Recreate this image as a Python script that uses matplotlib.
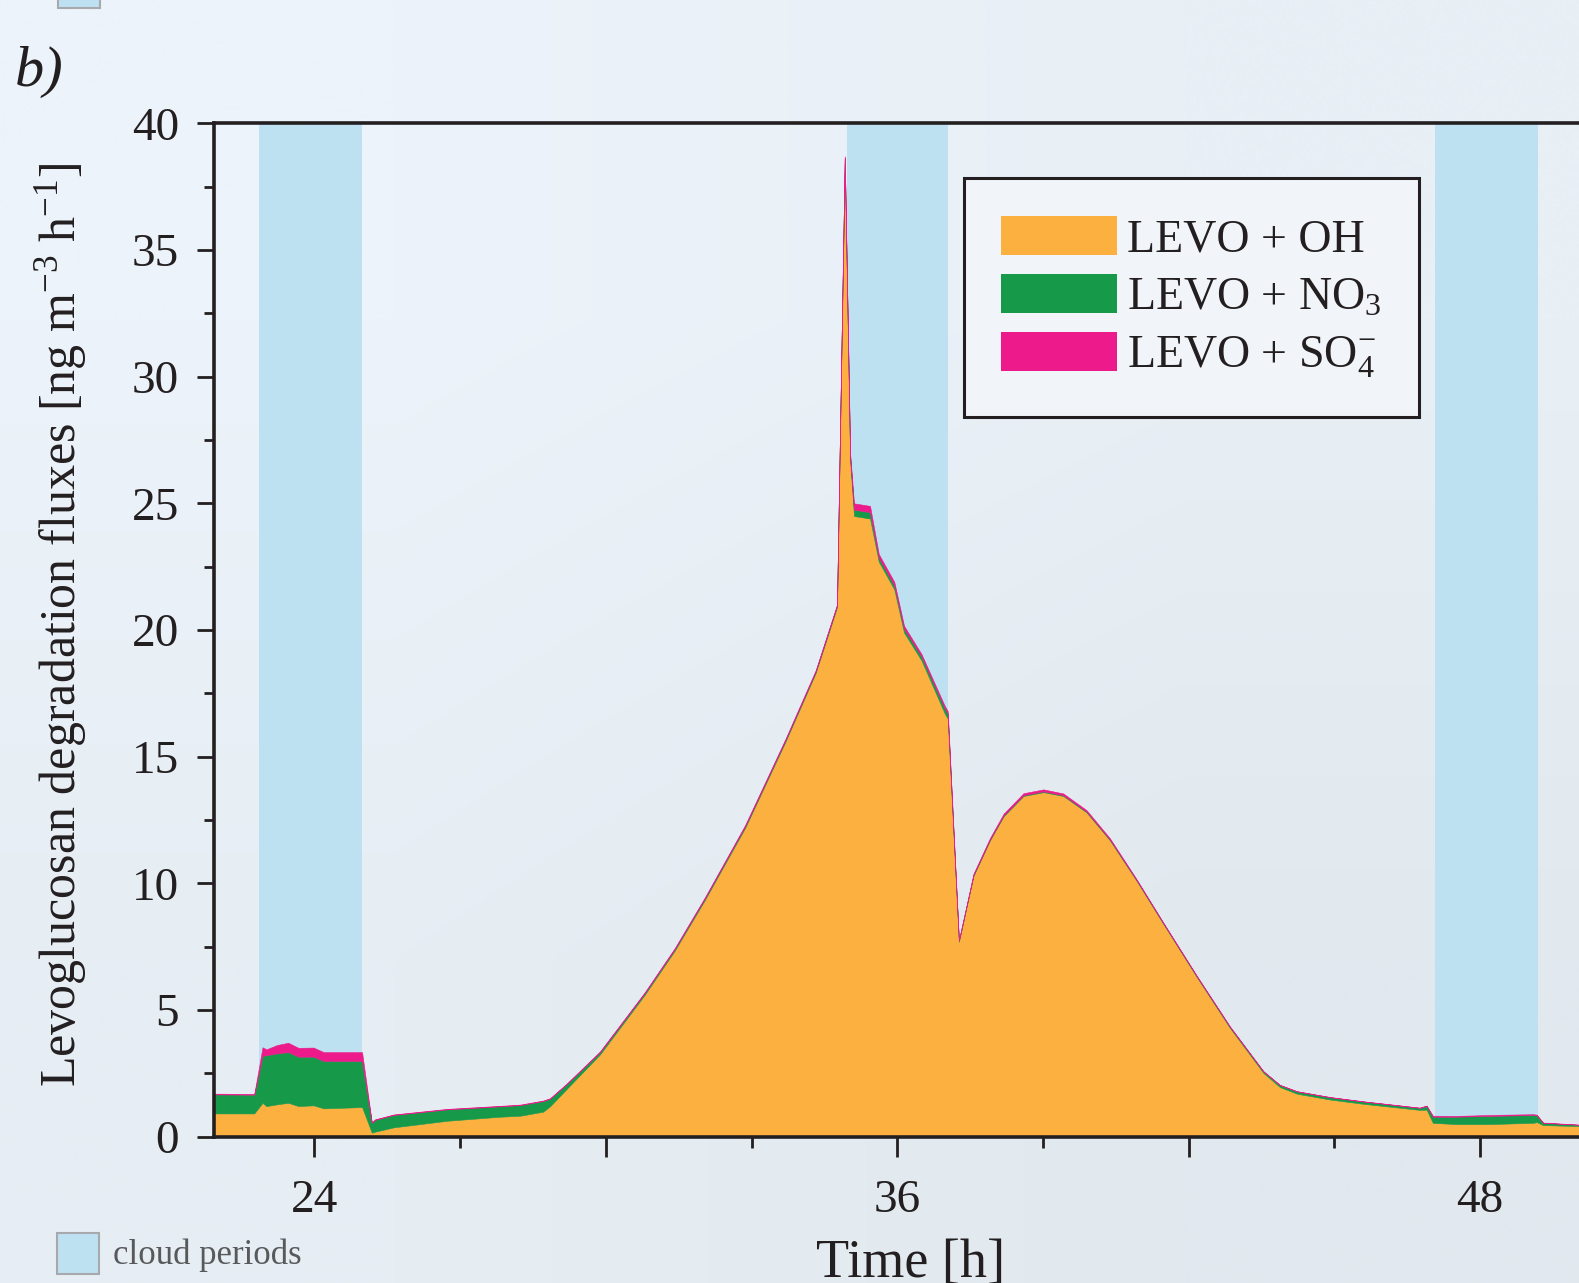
import numpy as np
import matplotlib
matplotlib.use("Agg")
import matplotlib.pyplot as plt
import matplotlib.patches as mpatches
from matplotlib.ticker import MultipleLocator, FuncFormatter

plt.rcParams['font.family'] = ['Liberation Serif', 'DejaVu Serif']
plt.rcParams['mathtext.fontset'] = 'custom'
plt.rcParams['mathtext.rm'] = 'Liberation Serif'
plt.rcParams['mathtext.it'] = 'Liberation Serif:italic'

# time [h] and the three degradation fluxes [ng m-3 h-1] (stacked)
time_h = [21.93, 22.76, 22.93, 23.01, 23.23, 23.46, 23.67, 23.98, 24.19, 24.98,
          25.18, 25.25, 25.63, 26.73, 27.82, 28.24, 28.71, 28.85, 29.20, 29.88,
          30.80, 31.42, 32.04, 32.87, 33.70, 34.32, 34.76, 34.92, 35.03, 35.11,
          35.44, 35.62, 35.94, 36.14, 36.50, 36.98, 37.04, 37.27, 37.57, 37.91,
          38.19, 38.60, 39.01, 39.42, 39.90, 40.38, 40.93, 41.48, 42.17, 42.85,
          43.54, 43.88, 44.23, 44.91, 45.60, 46.76, 46.90, 47.03, 47.50, 48.20,
          49.10, 49.17, 49.30, 50.04]
levo_oh = [0.92, 0.92, 1.34, 1.21, 1.28, 1.34, 1.21, 1.24, 1.12, 1.17,
           0.16, 0.20, 0.37, 0.63, 0.79, 0.83, 0.99, 1.20, 1.90, 3.25,
           5.60, 7.35, 9.35, 12.2, 15.6, 18.3, 20.9, 38.6, 26.7, 24.5,
           24.4, 22.7, 21.6, 19.9, 18.8, 16.7, 16.5, 7.7, 10.3, 11.7,
           12.65, 13.45, 13.6, 13.45, 12.8, 11.7, 10.1, 8.4, 6.3, 4.3,
           2.52, 1.96, 1.70, 1.47, 1.30, 1.06, 1.07, 0.55, 0.50, 0.50,
           0.55, 0.58, 0.46, 0.42]
levo_no3 = [0.75, 0.74, 1.85, 2.01, 2.01, 2.00, 1.95, 1.92, 1.87, 1.82,
            0.39, 0.47, 0.49, 0.45, 0.41, 0.42, 0.42, 0.30, 0.19, 0.09,
            0.07, 0.06, 0.06, 0.06, 0.06, 0.06, 0.06, 0.05, 0.15, 0.25,
            0.25, 0.15, 0.15, 0.15, 0.15, 0.20, 0.20, 0.03, 0.03, 0.03,
            0.03, 0.03, 0.03, 0.03, 0.03, 0.03, 0.03, 0.03, 0.03, 0.04,
            0.06, 0.08, 0.09, 0.09, 0.09, 0.08, 0.15, 0.24, 0.29, 0.32,
            0.31, 0.27, 0.09, 0.05]
levo_so4 = [0.03, 0.03, 0.34, 0.23, 0.33, 0.37, 0.35, 0.36, 0.35, 0.35,
            0.02, 0.02, 0.02, 0.02, 0.02, 0.02, 0.02, 0.02, 0.02, 0.03,
            0.03, 0.04, 0.04, 0.05, 0.05, 0.05, 0.05, 0.05, 0.15, 0.25,
            0.25, 0.15, 0.15, 0.12, 0.10, 0.10, 0.10, 0.03, 0.05, 0.06,
            0.07, 0.08, 0.08, 0.07, 0.06, 0.05, 0.03, 0.02, 0.02, 0.02,
            0.01, 0.01, 0.01, 0.01, 0.01, 0.01, 0.01, 0.04, 0.03, 0.04,
            0.03, 0.02, 0.01, 0.01]

cloud_periods = [(22.86, 24.98), (34.97, 37.04), (47.07, 49.19)]

series_labels = ['LEVO + OH', 'LEVO + NO$_3$', 'LEVO + SO$_4^{-}$']
series_colors = ['#FBB040', '#17994A', '#EC1A8A']
cloud_color = '#BEE1F2'
ink = '#231F20'

fig = plt.figure(figsize=(15.79, 12.83), dpi=100)

# soft bluish background
bg = fig.add_axes([0, 0, 1, 1], zorder=-5)
grad = np.array([[[236, 243, 250], [232, 239, 245]],
                 [[230, 238, 244], [225, 233, 239]]]) / 255.0
bg.imshow(grad, extent=[0, 1, 0, 1], aspect='auto', interpolation='bilinear')
bg.axis('off')

ax = fig.add_axes([0.1355, 0.1140, 0.8645, 0.7899])
ax.set_facecolor('none')

for start, end in cloud_periods:
    ax.axvspan(start, end, color=cloud_color, lw=0, zorder=1)

ax.stackplot(time_h, levo_oh, levo_no3, levo_so4, colors=series_colors,
             edgecolor='face', linewidth=0.4, zorder=2)

ax.set_xlim(21.93, 50.04)
ax.set_ylim(0, 40)

ax.xaxis.set_major_locator(MultipleLocator(6))
ax.xaxis.set_minor_locator(MultipleLocator(3))
ax.xaxis.set_major_formatter(FuncFormatter(lambda v, p: f"{v:.0f}" if v % 12 == 0 else ""))
ax.yaxis.set_major_locator(MultipleLocator(5))
ax.yaxis.set_minor_locator(MultipleLocator(2.5))

ax.tick_params(axis='x', which='major', length=14.5, width=2, color=ink,
               labelsize=34, labelcolor=ink, pad=16)
ax.tick_params(axis='x', which='minor', length=8, width=2, color=ink)
ax.tick_params(axis='y', which='major', length=12.2, width=2, color=ink,
               labelsize=34, labelcolor=ink, pad=13)
ax.tick_params(axis='y', which='minor', length=7.2, width=2, color=ink)

for side in ['left', 'bottom', 'top']:
    ax.spines[side].set_linewidth(2.6)
    ax.spines[side].set_color(ink)
    ax.spines[side].set_zorder(5)
ax.spines['right'].set_visible(False)

handles = [mpatches.Patch(facecolor=c, edgecolor='none') for c in series_colors]
leg = ax.legend(handles, series_labels, loc='upper left',
                bbox_to_anchor=(0.5492, 0.9458), borderaxespad=0,
                fontsize=33, frameon=True, fancybox=False,
                handlelength=2.53, handleheight=0.95, handletextpad=0.22,
                labelspacing=0.27, borderpad=0.82)
leg.get_frame().set_facecolor('#F1F5F9')
leg.get_frame().set_edgecolor(ink)
leg.get_frame().set_linewidth(2.2)
leg.get_frame().set_alpha(1)
for t in leg.get_texts():
    t.set_color(ink)

fig.text(61 / 1579, 1 - 625 / 1283,
         'Levoglucosan degradation fluxes [ng m$^{-3}$ h$^{-1}$]',
         rotation=90, ha='center', va='center', fontsize=36, color=ink)
fig.text(911 / 1579, 1 - 1277 / 1283, 'Time [h]', ha='center', va='baseline',
         fontsize=39, color=ink)
fig.text(15 / 1579, 1 - 86 / 1283, 'b)', style='italic', ha='left',
         va='baseline', fontsize=42, color=ink)

# cloud-period key at the bottom left, and the cut-off one of the panel above
fig.patches.append(mpatches.Rectangle((57 / 1579, 1 - 1274 / 1283), 42 / 1579, 41 / 1283,
                                      transform=fig.transFigure, facecolor=cloud_color,
                                      edgecolor='#A7A9AC', linewidth=1.5))
fig.patches.append(mpatches.Rectangle((58 / 1579, 1 - 8 / 1283), 42 / 1579, 30 / 1283,
                                      transform=fig.transFigure, facecolor=cloud_color,
                                      edgecolor='#A7A9AC', linewidth=1.5))
fig.text(113 / 1579, 1 - 1264 / 1283, 'cloud periods', ha='left', va='baseline',
         fontsize=25, color='#58595B')

fig.savefig('out.png', dpi=100)
